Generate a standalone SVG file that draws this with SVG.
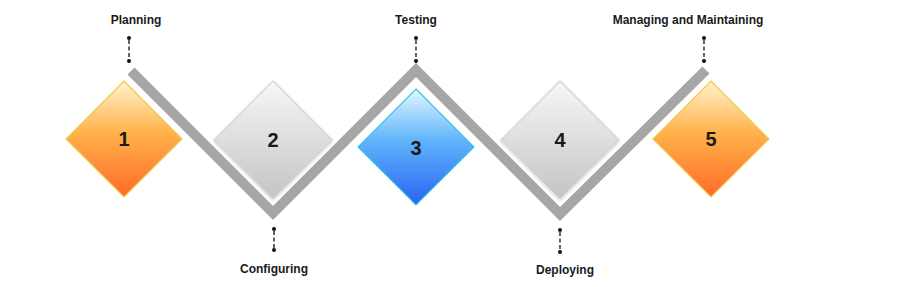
<svg xmlns="http://www.w3.org/2000/svg" width="899" height="287" viewBox="0 0 899 287">
<defs>
<linearGradient id="gOrange" x1="0" y1="0" x2="0" y2="1">
<stop offset="0" stop-color="#fff3cc"/>
<stop offset="0.45" stop-color="#ffb24a"/>
<stop offset="1" stop-color="#ff6a28"/>
</linearGradient>
<linearGradient id="gGray" x1="0" y1="0" x2="0" y2="1">
<stop offset="0" stop-color="#f7f7f7"/>
<stop offset="1" stop-color="#c4c4c4"/>
</linearGradient>
<linearGradient id="gBlue" x1="0" y1="0" x2="0" y2="1">
<stop offset="0" stop-color="#e4f6ff"/>
<stop offset="0.45" stop-color="#5eb4fb"/>
<stop offset="1" stop-color="#2a62f2"/>
</linearGradient>
<filter id="sh" x="-20%" y="-20%" width="140%" height="140%">
<feDropShadow dx="0" dy="1" stdDeviation="1.5" flood-color="#000" flood-opacity="0.2"/>
</filter>
</defs>
<style>
.lbl{font-family:"Liberation Sans",Arial,sans-serif;font-weight:bold;font-size:12px;fill:#1a1a1a;text-anchor:middle}
.num{font-family:"Liberation Sans",Arial,sans-serif;font-weight:bold;font-size:20px;fill:#1a1a1a;text-anchor:middle}
.dash{stroke:#111;stroke-width:1.3;stroke-dasharray:4,2.5;fill:none}
.dot{fill:#111}
.orange{fill:url(#gOrange);stroke:#f2c84a;stroke-width:1.2}
.gray{fill:url(#gGray);stroke:#d4d4d4;stroke-width:1.2;filter:url(#sh)}
.blue{fill:url(#gBlue);stroke:#3cc4e4;stroke-width:1.2}
.band{fill:none;stroke:#a6a6a6;stroke-width:10;stroke-linejoin:miter;stroke-linecap:butt}
</style>
<g id="connectors">
<polyline class="band" points="131,71 273,213 416,70 560,214 706,70"/>
<g>
<line class="dash" x1="129" y1="40" x2="129" y2="60"/><circle class="dot" cx="129" cy="38" r="2"/><circle class="dot" cx="129" cy="61" r="2"/>
<line class="dash" x1="416" y1="40" x2="416" y2="60"/><circle class="dot" cx="416" cy="38" r="2"/><circle class="dot" cx="416" cy="61" r="2"/>
<line class="dash" x1="704" y1="40" x2="704" y2="60"/><circle class="dot" cx="704" cy="38" r="2"/><circle class="dot" cx="704" cy="61" r="2"/>
<line class="dash" x1="274" y1="231" x2="274" y2="250"/><circle class="dot" cx="274" cy="229" r="2"/><circle class="dot" cx="274" cy="250" r="2"/>
<line class="dash" x1="560" y1="232" x2="560" y2="252"/><circle class="dot" cx="560" cy="230" r="2"/><circle class="dot" cx="560" cy="252" r="2"/>
</g>
</g>
<g id="node1">
<polygon class="orange" points="124,81 182,139 124,197 66,139"/>
<text class="num" x="124" y="146">1</text>
<text class="lbl" x="136" y="24">Planning</text>
</g>
<g id="node2">
<polygon class="gray" points="273,81 332,140 273,199 214,140"/>
<text class="num" x="273" y="147">2</text>
<text class="lbl" x="274" y="273">Configuring</text>
</g>
<g id="node3">
<polygon class="blue" points="416,89 474,147 416,205 358,147"/>
<text class="num" x="416" y="155">3</text>
<text class="lbl" x="416" y="24">Testing</text>
</g>
<g id="node4">
<polygon class="gray" points="560,81 619,140 560,199 501,140"/>
<text class="num" x="560" y="147">4</text>
<text class="lbl" x="565" y="274">Deploying</text>
</g>
<g id="node5">
<polygon class="orange" points="711,81 769,139 711,197 653,139"/>
<text class="num" x="711" y="146">5</text>
<text class="lbl" x="688" y="24">Managing and Maintaining</text>
</g>
</svg>
